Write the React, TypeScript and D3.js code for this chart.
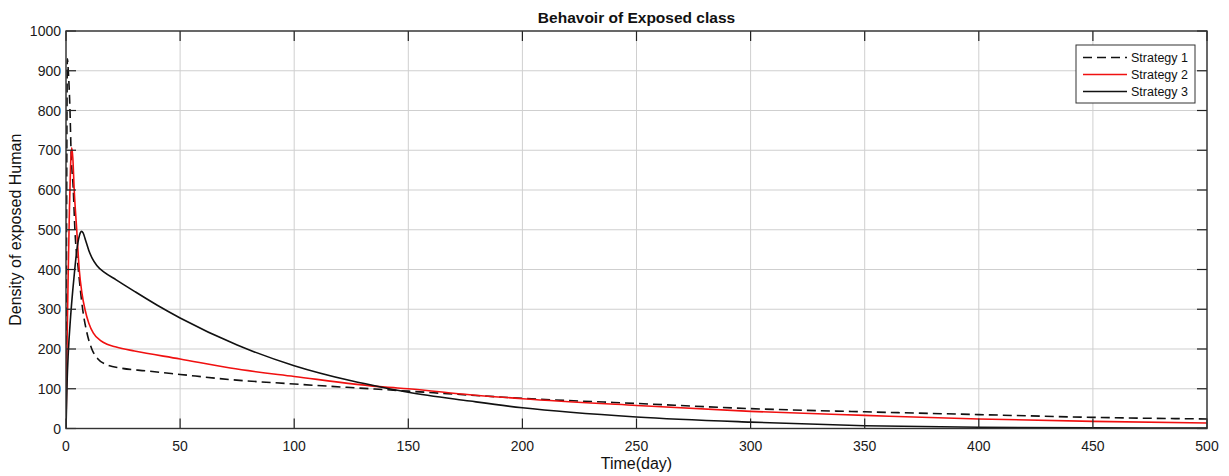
import React from "react";
import * as d3 from "d3";

// Time samples (days) and exposed-human density for each control strategy
const strategy1Time = [0, 0.3, 0.6, 1, 1.75, 2.2, 3.2, 3.9, 5.4, 7.3, 9, 11.3, 14, 18, 24, 35, 50, 72, 100, 150, 177, 200, 250, 300, 350, 400, 450, 500];
const strategy1Values = [0, 600, 930, 900, 800, 700, 600, 500, 400, 300, 245, 200, 175, 160, 152, 145, 136, 123, 112, 94, 84, 76, 63, 50, 42, 35, 28, 24];

const strategy2Time = [0, 0.5, 1, 1.5, 2, 2.5, 3, 3.6, 4.7, 5.8, 7, 8.3, 10, 12, 15, 18, 22, 30, 50, 72, 100, 140, 150, 177, 200, 250, 300, 350, 400, 450, 500];
const strategy2Values = [0, 230, 400, 550, 660, 706, 680, 600, 500, 400, 340, 300, 265, 240, 222, 212, 205, 195, 175, 152, 131, 104, 100, 85, 75, 58, 43, 33, 24, 18, 14];

const strategy3Time = [0, 0.5, 1, 2, 3, 4, 5, 6, 6.8, 7.5, 8.5, 10, 11.5, 13.5, 17, 22, 30, 40, 50, 75, 100, 125, 140, 150, 177, 200, 250, 300, 350, 400, 450, 500];
const strategy3Values = [0, 120, 190, 280, 350, 410, 460, 488, 496, 492, 475, 448, 428, 410, 392, 374, 345, 310, 278, 210, 158, 120, 102, 91, 69, 52, 29, 16, 7, 3, 1.5, 1];

const xTicks = [0, 50, 100, 150, 200, 250, 300, 350, 400, 450, 500];
const yTicks = [0, 100, 200, 300, 400, 500, 600, 700, 800, 900, 1000];

const seriesNames = ["Strategy 1", "Strategy 2", "Strategy 3"];

const W = 1229;
const H = 476;
const plot = { left: 66, right: 1207, top: 31, bottom: 428.5 };
const FONT = "'Liberation Sans', Arial, Helvetica, sans-serif";
const TICK_LEN = 10;

export default function App() {
  const x = d3.scaleLinear().domain([0, 500]).range([plot.left, plot.right]);
  const y = d3.scaleLinear().domain([0, 1000]).range([plot.bottom, plot.top]);

  const line = d3
    .line<[number, number]>()
    .x((d) => x(d[0]))
    .y((d) => y(d[1]))
    .curve(d3.curveMonotoneX);

  const zip = (t: number[], v: number[]) => t.map((ti, i) => [ti, v[i]] as [number, number]);

  const series = [
    { name: seriesNames[0], d: line(zip(strategy1Time, strategy1Values)), color: "#111", dash: "9,5" },
    { name: seriesNames[1], d: line(zip(strategy2Time, strategy2Values)), color: "#f01010", dash: undefined },
    { name: seriesNames[2], d: line(zip(strategy3Time, strategy3Values)), color: "#111", dash: undefined },
  ];

  const legend = { x: 1076, y: 45, w: 119, h: 58 };
  const legendRows = [57.5, 74.5, 91.5];

  return (
    <svg
      width={W}
      height={H}
      style={{ position: "absolute", left: 0, top: 0, background: "#fff" }}
      fontFamily={FONT}
    >
      <rect x={0} y={0} width={W} height={H} fill="#fff" />

      {/* grid */}
      {xTicks.map((t) => (
        <line key={"gx" + t} x1={x(t)} x2={x(t)} y1={plot.top} y2={plot.bottom} stroke="#cfcfcf" strokeWidth={1} />
      ))}
      {yTicks.map((t) => (
        <line key={"gy" + t} x1={plot.left} x2={plot.right} y1={y(t)} y2={y(t)} stroke="#cfcfcf" strokeWidth={1} />
      ))}

      {/* curves */}
      <defs>
        <clipPath id="plotClip">
          <rect x={plot.left} y={plot.top - 2} width={plot.right - plot.left} height={plot.bottom - plot.top + 2} />
        </clipPath>
      </defs>
      <g clipPath="url(#plotClip)">
        {series.map((s) => (
          <path
            key={s.name}
            d={s.d || ""}
            fill="none"
            stroke={s.color}
            strokeWidth={1.6}
            strokeDasharray={s.dash}
          />
        ))}
      </g>

      {/* inward ticks on all four sides */}
      {xTicks.map((t) => (
        <g key={"tx" + t}>
          <line x1={x(t)} x2={x(t)} y1={plot.bottom} y2={plot.bottom - TICK_LEN} stroke="#222" strokeWidth={1.2} />
          <line x1={x(t)} x2={x(t)} y1={plot.top} y2={plot.top + TICK_LEN} stroke="#222" strokeWidth={1.2} />
        </g>
      ))}
      {yTicks.map((t) => (
        <g key={"ty" + t}>
          <line x1={plot.left} x2={plot.left + TICK_LEN} y1={y(t)} y2={y(t)} stroke="#222" strokeWidth={1.2} />
          <line x1={plot.right} x2={plot.right - TICK_LEN} y1={y(t)} y2={y(t)} stroke="#222" strokeWidth={1.2} />
        </g>
      ))}

      {/* axes box */}
      <rect
        x={plot.left}
        y={plot.top}
        width={plot.right - plot.left}
        height={plot.bottom - plot.top}
        fill="none"
        stroke="#333"
        strokeWidth={1.4}
      />

      {/* tick labels */}
      {xTicks.map((t) => (
        <text key={"lx" + t} x={x(t)} y={451} textAnchor="middle" fontSize={14} fill="#1a1a1a">
          {t}
        </text>
      ))}
      {yTicks.map((t) => (
        <text key={"ly" + t} x={61} y={y(t) + 5} textAnchor="end" fontSize={14} fill="#1a1a1a">
          {t}
        </text>
      ))}

      {/* titles */}
      <text x={(plot.left + plot.right) / 2} y={22.5} textAnchor="middle" fontSize={15.5} fontWeight="bold" fill="#111">
        Behavoir of Exposed class
      </text>
      <text x={(plot.left + plot.right) / 2} y={469} textAnchor="middle" fontSize={16} fill="#111">
        Time(day)
      </text>
      <text
        transform={`translate(21, ${(plot.top + plot.bottom) / 2}) rotate(-90)`}
        textAnchor="middle"
        fontSize={16}
        fill="#111"
      >
        Density of exposed Human
      </text>

      {/* legend */}
      <rect x={legend.x} y={legend.y} width={legend.w} height={legend.h} fill="#fff" stroke="#333" strokeWidth={1} />
      {series.map((s, i) => (
        <g key={"lg" + s.name}>
          <line
            x1={1083}
            x2={1127}
            y1={legendRows[i]}
            y2={legendRows[i]}
            stroke={s.color}
            strokeWidth={1.6}
            strokeDasharray={s.dash}
          />
          <text x={1131} y={legendRows[i] + 4.5} fontSize={12.5} fill="#111">
            {s.name}
          </text>
        </g>
      ))}
    </svg>
  );
}
